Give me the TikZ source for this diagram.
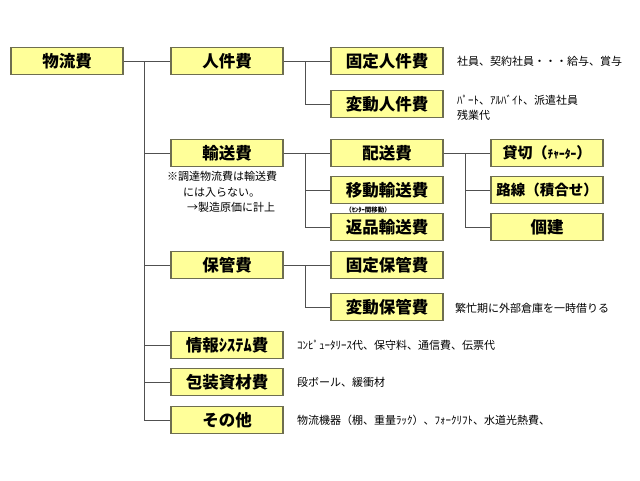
\documentclass[tikz,border=0pt]{standalone}
\usepackage{fontspec}
\setmainfont{Noto Sans CJK JP}
\definecolor{boxfill}{RGB}{255,255,153}
\definecolor{boxline}{RGB}{110,110,80}
\definecolor{linecol}{RGB}{80,80,80}
\begin{document}
\begin{tikzpicture}[x=1pt,y=-1pt,
  box/.style={draw=boxline,fill=boxfill,line width=1.2pt,minimum width=112pt,minimum height=27pt,inner sep=0pt,font=\fontsize{16.5}{16.5}\selectfont\bfseries},
  note/.style={anchor=west,inner sep=0pt,align=left,font=\fontsize{11}{15.5}\selectfont},
  link/.style={draw=linecol,line width=0.9pt}]
\fill[white] (0,0) rectangle (640,480);
\useasboundingbox (0,0) rectangle (640,480);
% boxes
\node[box] (butsuryu) at (67,61) {物流費};
\node[box] (jinken) at (227,61) {人件費};
\node[box] (yuso) at (227,153) {輸送費};
\node[box] (hokan) at (227,265) {保管費};
\node[box] (joho) at (227,345) {情報ｼｽﾃﾑ費};
\node[box] (hoso) at (227,382) {包装資材費};
\node[box] (sonota) at (227,420) {その他};
\node[box] (koteijin) at (387,61) {固定人件費};
\node[box] (hendojin) at (387,104) {変動人件費};
\node[box] (haiso) at (387,153) {配送費};
\node[box] (ido) at (387,190) {移動輸送費};
\node[box] (henpin) at (387,227) {返品輸送費};
\node[box] (koteihokan) at (387,265) {固定保管費};
\node[box] (hendohokan) at (387,307) {変動保管費};
\node[box,font=\fontsize{15}{15}\selectfont\bfseries] (kashikiri) at (547,153) {貸切（{\fontsize{11.5}{11.5}\selectfont ﾁｬｰﾀｰ}）};
\node[box,font=\fontsize{14.5}{14.5}\selectfont\bfseries] (rosen) at (547,190) {路線（積合せ）};
\node[box] (kodate) at (547,227) {個建};
% notes
\node[note] (n1) at (457,61) {社員、契約社員・・・給与、賞与};
\node[note] (n2) at (457,108) {ﾊﾟｰﾄ、ｱﾙﾊﾞｲﾄ、派遣社員\\残業代};
\node[note] (n3) at (167,192) {※調達物流費は輸送費\\\hspace{16pt}には入らない。\\\hspace{20pt}→製造原価に計上};
\node[font=\fontsize{6.5}{6.5}\selectfont\bfseries,inner sep=0pt] (n4) at (368,210) {（ｾﾝﾀｰ間移動）};
\node[note] (n5) at (455,308) {繁忙期に外部倉庫を一時借りる};
\node[note] (n6) at (297,345) {ｺﾝﾋﾟｭｰﾀﾘｰｽ代、保守料、通信費、伝票代};
\node[note] (n7) at (297,382) {段ボール、緩衝材};
\node[note] (n8) at (297,420) {物流機器（棚、重量ﾗｯｸ）、ﾌｫｰｸﾘﾌﾄ、水道光熱費、};
% connectors
\coordinate (t1) at (144,61);
\coordinate (t2) at (305,61);
\coordinate (t3) at (305,153);
\coordinate (t4) at (465,153);
\coordinate (t5) at (305,265);
\draw[link] (butsuryu.east) -- (t1);
\foreach \c in {jinken,yuso,hokan,joho,hoso,sonota}
  \draw[link] (t1) |- (\c.west);
\draw[link] (jinken.east) -- (t2);
\foreach \c in {koteijin,hendojin}
  \draw[link] (t2) |- (\c.west);
\draw[link] (yuso.east) -- (t3);
\foreach \c in {haiso,ido,henpin}
  \draw[link] (t3) |- (\c.west);
\draw[link] (haiso.east) -- (t4);
\foreach \c in {kashikiri,rosen,kodate}
  \draw[link] (t4) |- (\c.west);
\draw[link] (hokan.east) -- (t5);
\foreach \c in {koteihokan,hendohokan}
  \draw[link] (t5) |- (\c.west);
\end{tikzpicture}
\end{document}
